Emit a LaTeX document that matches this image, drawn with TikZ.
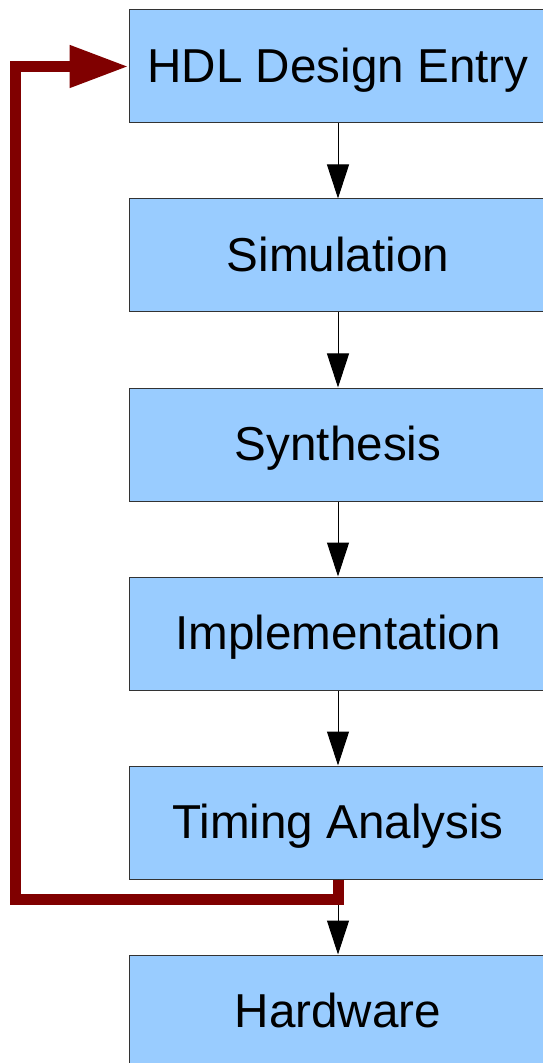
\documentclass[tikz,border=0pt]{standalone}
\usepackage{fontspec}
\setmainfont{Liberation Sans}
\usetikzlibrary{arrows.meta, positioning}
\definecolor{boxfill} {HTML}{99CCFF}
\definecolor{boxline} {HTML}{333333}
\definecolor{loopred} {HTML}{800000}

\begin{document}
\begin{tikzpicture}[x=0.5pt, y=-0.5pt,
    stage/.style={draw=boxline, fill=boxfill, line width=0.5pt,
                  minimum width=209pt, minimum height=56.5pt, inner sep=0pt,
                  text height=17.1pt, text depth=1.2pt,
                  font=\fontsize{23.8pt}{28pt}\selectfont},
    flow/.style={-{Triangle[length=17pt, width=11pt]}, line width=0.5pt},
    back/.style={-{Triangle[length=29.5pt, width=20pt]}, loopred,
                 line width=5.5pt, line join=miter}
  ]
    \useasboundingbox (0,0) rectangle (542,1063);
    \node[stage] (entry) at (338,66.5) {HDL Design Entry};
    \node[stage, below=37.5pt of entry]  (sim)    {Simulation};
    \node[stage, below=37.5pt of sim]    (synth)  {Synthesis};
    \node[stage, below=37.5pt of synth]  (impl)   {Implementation};
    \node[stage, below=37.5pt of impl]   (timing) {Timing Analysis};
    \node[stage, below=37.5pt of timing] (hw)     {Hardware};

    \draw[flow] (entry) -- (sim);
    \draw[flow] (sim) -- (synth);
    \draw[flow] (synth) -- (impl);
    \draw[flow] (impl) -- (timing);
    \draw[flow] (timing) -- (hw);

    % feedback loop back to design entry
    \coordinate (corner) at (15.5,899);
    \draw[back] (timing.south) |- (corner) |- (entry.west);
\end{tikzpicture}
\end{document}
